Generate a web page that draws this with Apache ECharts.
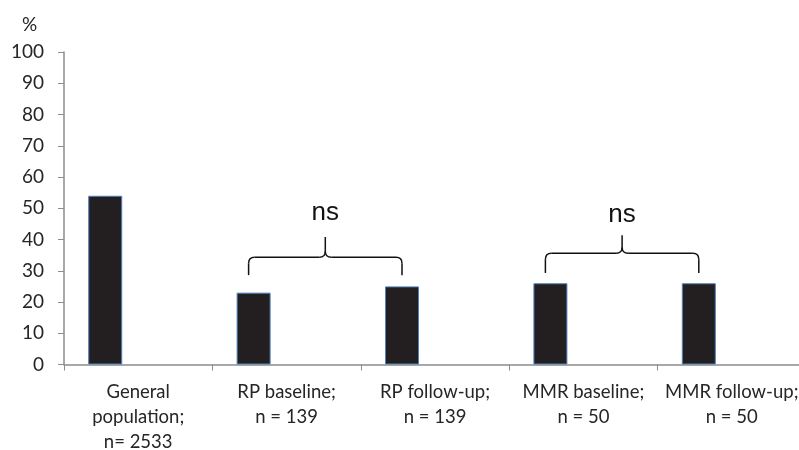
<!DOCTYPE html>
<html>
<head>
<meta charset="utf-8">
<script src="https://cdn.jsdelivr.net/npm/echarts@6/dist/echarts.min.js"></script>
<style>html,body{margin:0;padding:0;background:#fff}#c{width:799px;height:450px}</style>
</head>
<body>
<div id="c"></div>
<script>
const categories = ['General\npopulation;\nn= 2533', 'RP baseline;\nn = 139', 'RP follow-up;\nn = 139', 'MMR baseline;\nn = 50', 'MMR follow-up;\nn = 50'];
const values = [54, 23, 25, 26, 26];
const yTicks = [0, 100, 10];
// significance braces: from category index to category index, in value units
const braceFrom = [1, 3];
const braceTo = [2, 4];
const braceBase = [28.6, 29.3];
const braceLevel = [34.3, 35.6];
const braceTip = [40.8, 41.4];
const braceLabelLevel = [48.4, 47.8];
const braceLabels = ['ns', 'ns'];

const chart = echarts.init(document.getElementById('c'));
const axisColor = '#8c8c8c';
const textColor = '#262626';
const font = 'Lato, "Open Sans", sans-serif';
chart.setOption({
  animation: false,
  title: {text: '%', left: 17, top: 10, textStyle: {fontFamily: font, fontSize: 19, fontWeight: 'normal', color: textColor}},
  grid: {left: 64, right: -7, top: 52, bottom: 85.5, containLabel: false, outerBoundsMode: 'none'},
  xAxis: {
    type: 'category', data: categories, boundaryGap: true,
    axisLine: {lineStyle: {color: axisColor, width: 1.5}},
    axisTick: {show: true, length: 6, lineStyle: {color: axisColor}},
    axisLabel: {interval: 0, margin: 15, fontFamily: font, fontSize: 18.5, lineHeight: 25, color: textColor}
  },
  yAxis: {
    type: 'value', min: yTicks[0], max: yTicks[1], interval: yTicks[2],
    axisLine: {show: true, lineStyle: {color: axisColor, width: 1.5}},
    axisTick: {show: true, length: 6, lineStyle: {color: axisColor}},
    splitLine: {show: false},
    axisLabel: {margin: 20, fontFamily: font, fontSize: 19, color: textColor}
  },
  series: [
    {type: 'bar', data: values, barWidth: 34, barGap: '94%',
     itemStyle: {color: '#231f20', borderColor: '#4f81bd', borderWidth: 1}},
    {type: 'bar', data: values.map(() => '-'), barWidth: 34}
  ]
});

const barOffset = -33;
const graphics = [];
const st = {fill: null, stroke: '#111', lineWidth: 1.5};
function seg(x1, y1, x2, y2) { graphics.push({type: 'line', shape: {x1, y1, x2, y2}, style: st}); }
function curve(x1, y1, cx, cy, x2, y2) { graphics.push({type: 'bezierCurve', shape: {x1, y1, x2, y2, cpx1: cx, cpy1: cy}, style: st}); }
for (let i = 0; i < braceFrom.length; i++) {
  const pL = chart.convertToPixel({gridIndex: 0}, [braceFrom[i], braceBase[i]]);
  const pR = chart.convertToPixel({gridIndex: 0}, [braceTo[i], braceBase[i]]);
  const x1 = pL[0] + barOffset - 5, x2 = pR[0] + barOffset;
  const yE = pL[1];
  const yH = chart.convertToPixel({gridIndex: 0}, [0, braceLevel[i]])[1];
  const yT = chart.convertToPixel({gridIndex: 0}, [0, braceTip[i]])[1];
  const yL = chart.convertToPixel({gridIndex: 0}, [0, braceLabelLevel[i]])[1];
  const xc = (x1 + x2) / 2;
  const r = 6;
  seg(x1, yE, x1, yH + r);
  curve(x1, yH + r, x1, yH, x1 + r, yH);
  seg(x1 + r, yH, xc - r, yH);
  curve(xc - r, yH, xc, yH, xc, yH - r);
  seg(xc, yH - r, xc, yT);
  curve(xc + r, yH, xc, yH, xc, yH - r);
  seg(xc + r, yH, x2 - r, yH);
  curve(x2 - r, yH, x2, yH, x2, yH + r);
  seg(x2, yH + r, x2, yE);
  graphics.push({type: 'text', x: xc, y: yL, style: {text: braceLabels[i], align: 'center', verticalAlign: 'middle', font: '26px "Liberation Sans", Arial, sans-serif', fill: '#111'}});
}
chart.setOption({graphic: graphics});
</script>
</body>
</html>
